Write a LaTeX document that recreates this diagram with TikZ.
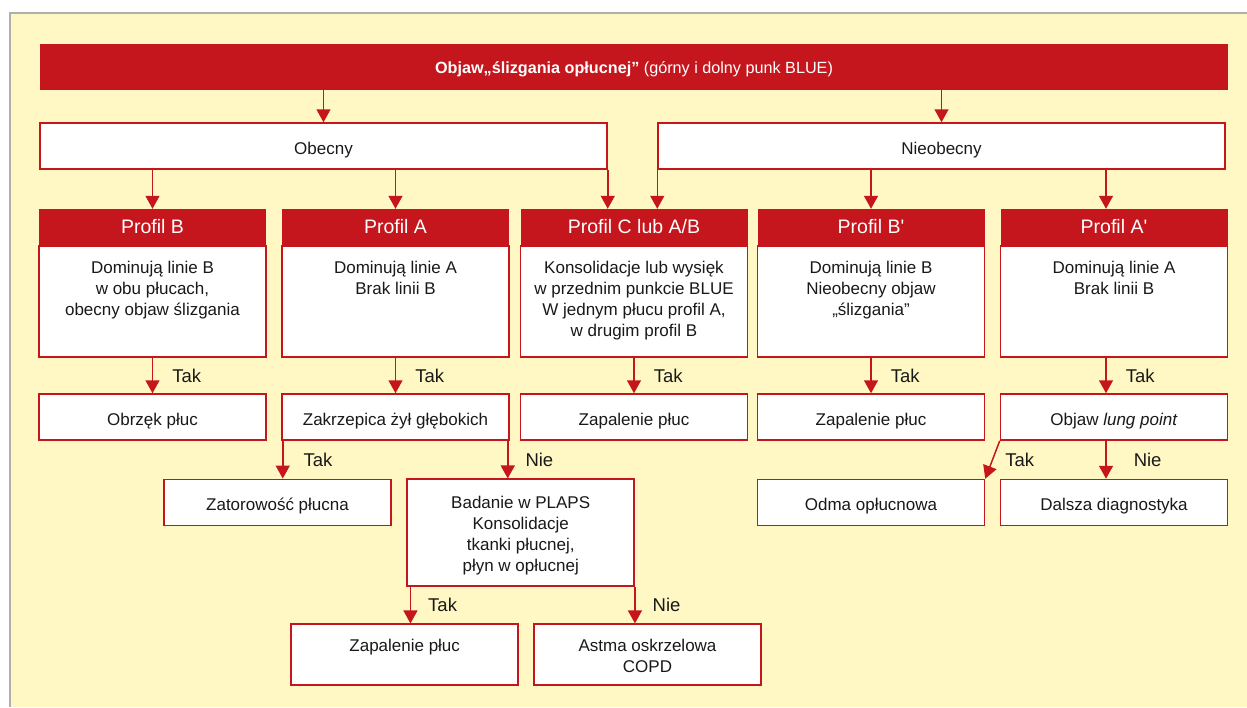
\documentclass[tikz,border=0pt]{standalone}
\usepackage{fontspec}
\setmainfont{Liberation Sans}
\usepackage{tikz}
\usetikzlibrary{positioning,arrows.meta}

\definecolor{bred}{RGB}{196,22,28}
\definecolor{panel}{RGB}{255,248,196}
\definecolor{frame}{RGB}{175,175,175}
\definecolor{ink}{RGB}{25,25,25}
\newcommand\txtsize{\fontsize{17}{21}\selectfont}
\newcommand\topsize{\fontsize{16.2}{20}\selectfont}
\newcommand\headsize{\fontsize{19.5}{23}\selectfont}
\newcommand\labsize{\fontsize{18.5}{22}\selectfont}

\begin{document}
\begin{tikzpicture}[
  x=1pt,y=-1pt,
  font=\txtsize, text=ink,
  title/.style={fill=bred,text=white,font=\topsize,minimum width=1188pt,minimum height=46pt,
                inner sep=0pt,text height=12pt,text depth=0pt},
  branch/.style={draw=bred,line width=1.5pt,fill=white,minimum width=567pt,
                 minimum height=46pt,inner sep=0pt,text height=16pt,text depth=0pt},
  res/.style={branch,minimum width=227pt},
  head/.style={fill=bred,text=white,font=\headsize,minimum width=227pt,
               minimum height=36pt,inner sep=0pt},
  body/.style={draw=bred,line width=1.5pt,fill=white,minimum width=227pt,
               minimum height=111pt,inner sep=0pt},
  txt/.style={align=center,inner sep=0pt},
  lbl/.style={font=\labsize,inner sep=0pt},
  ar/.style={draw=bred,line width=1.5pt,-{Triangle[length=13pt,width=14pt]}}
]
\useasboundingbox (0,0) rectangle (1247,707);
\fill[white] (0,0) rectangle (1247,707);
\fill[panel] (10,13) rectangle (1247,707);
\draw[frame,line width=1.5pt] (10,707) -- (10,13) -- (1247,13);

%% ---- top: sign and the two branches ------------------------------------
\node[title]  (top) at (634,67)    {\textbf{Objaw„ślizgania opłucnej”} (górny i dolny punk BLUE)};
\node[branch] (ob)  at (323.5,146) {Obecny};
\node[branch] (nb)  at (941.5,146) {Nieobecny};
\draw[ar] (top.south -| ob.north) -- (ob.north);
\draw[ar] (top.south -| nb.north) -- (nb.north);

%% ---- row 1: the five profiles -------------------------------------------
\foreach \n/\x/\h/\t in {
  B/152.5/{Profil B}/{Dominują linie B\\w obu płucach,\\obecny objaw ślizgania},
  A/395.5/{Profil A}/{Dominują linie A\\Brak linii B},
  C/634/{Profil C lub A/B}/{Konsolidacje lub wysięk\\w przednim punkcie BLUE\\W jednym płucu profil A,\\w drugim profil B},
  Bp/871/{Profil B\textquotesingle}/{Dominują linie B\\Nieobecny objaw\\„ślizgania”},
  Ap/1114/{Profil A\textquotesingle}/{Dominują linie A\\Brak linii B}}{
  \node[head] (h\n) at (\x,227) {\h};
  \node[body, below=0pt of h\n] (b\n) {};
  \node[txt, below=16pt of b\n.north] (t\n) {\t};
}
\draw[ar] (ob.south -| hB.north) -- (hB.north);
\draw[ar] (ob.south -| hA.north) -- (hA.north);
\draw[ar] (ob.south east) -- (ob.south east |- hC.north);
\draw[ar] (nb.south west) -- (nb.south west |- hC.north);
\draw[ar] (nb.south -| hBp.north) -- (hBp.north);
\draw[ar] ([xshift=-8pt]hAp.north |- nb.south) -- ([xshift=-8pt]hAp.north);

%% ---- row 2: first answers -----------------------------------------------
\node[res] (obr) at (152.5,417) {Obrzęk płuc};
\node[res] (zk)  at (395.5,417) {Zakrzepica żył głębokich};
\node[res] (zp1) at (634,417)   {Zapalenie płuc};
\node[res] (zp2) at (871,417)   {Zapalenie płuc};
\node[res] (lp)  at (1114,417)  {Objaw \textit{lung point}};
\foreach \a/\b in {bB/obr, bA/zk, bC/zp1, bBp/zp2}
  \draw[ar] (\a) -- node[lbl,right=19pt] {Tak} (\b);
\draw[ar] ([xshift=-8pt]bAp.south) -- node[lbl,right=19pt] {Tak} ([xshift=-8pt]lp.north);

%% ---- row 3: below the thrombosis and the lung point ---------------------
\node[res] (zt) at (277.5,502.3) {Zatorowość płucna};
\node[res, minimum height=107pt] (bd) at (520.7,532.7) {};
\node[txt, below=18pt of bd.north] (tbd) {Badanie w PLAPS\\Konsolidacje\\tkanki płucnej,\\płyn w opłucnej};
\node[res] (od) at (871,502.5)  {Odma opłucnowa};
\node[res] (dd) at (1114,502.5) {Dalsza diagnostyka};
\draw[ar] ([xshift=1.5pt]zk.south west) -- node[lbl,right=20pt] {Tak} ([xshift=1.5pt]zk.south west |- zt.north);
\draw[ar] ([xshift=-2pt]zk.south east) -- node[lbl,right=17pt] {Nie} ([xshift=-2pt]zk.south east |- bd.north);
\draw[ar] (lp.south west) -- node[lbl,right=12pt] {Tak} (od.north east);
\draw[ar] ([xshift=-8pt]lp.south) -- node[lbl,right=27pt] {Nie} ([xshift=-8pt]dd.north);

%% ---- row 4: after PLAPS --------------------------------------------------
\node[res, minimum height=61pt] (zp3) at (404.7,654.7) {};
\node[txt, below=16pt of zp3.north] (tzp3) {Zapalenie płuc};
\node[res, minimum height=61pt] (as) at (647.5,654.7) {};
\node[txt, below=16pt of as.north] (tas) {Astma oskrzelowa\\COPD};
\draw[ar] ([xshift=4pt]bd.south west) -- node[lbl,right=17pt] {Tak} ([xshift=4pt]bd.south west |- zp3.north);
\draw[ar] (bd.south east) -- node[lbl,right=17pt] {Nie} (bd.south east |- as.north);
\end{tikzpicture}
\end{document}
